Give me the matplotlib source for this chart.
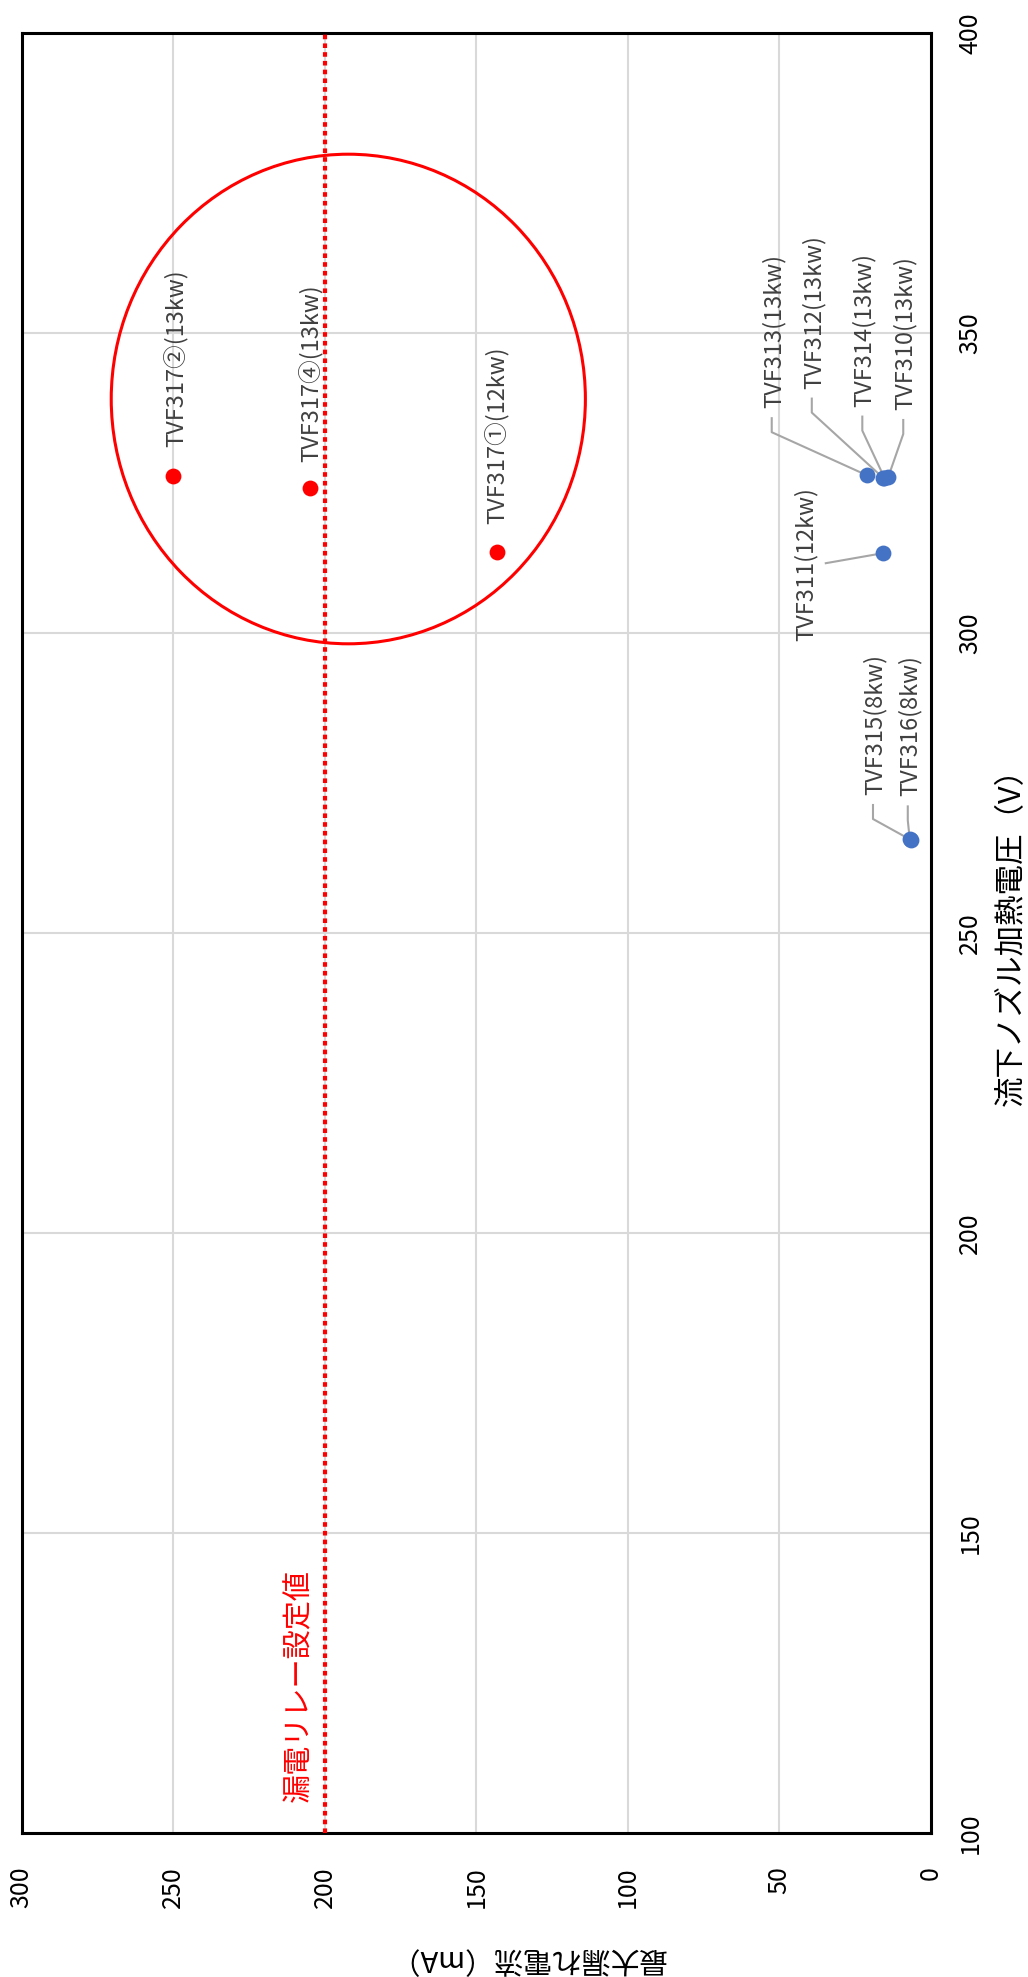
import numpy as np
import matplotlib
matplotlib.use('Agg')
import matplotlib.pyplot as plt
import matplotlib.transforms as mtransforms
from matplotlib.patches import Ellipse

plt.rcParams['font.family'] = ['Noto Sans CJK JP', 'DejaVu Sans']

# nozzle heater units: voltage [V] vs max leakage current [mA]
blue_names = ['TVF310(13kw)', 'TVF311(12kw)', 'TVF312(13kw)', 'TVF313(13kw)',
              'TVF314(13kw)', 'TVF315(8kw)', 'TVF316(8kw)']
blue_volt = [326.0, 313.3, 325.9, 326.3, 325.9, 265.5, 265.6]
blue_leak = [14.1, 15.9, 15.9, 21.2, 15.4, 6.6, 7.0]

red_names = ['TVF317①(12kw)', 'TVF317②(13kw)', 'TVF317④(13kw)']
red_volt = [313.5, 326.1, 324.2]
red_leak = [143.2, 250.0, 205.0]

relay_setting = 200   # mA
relay_text = '漏電リレー設定値'

# highlighted region (centre volt/leak and half sizes)
ring_leak, ring_volt = 192.2, 339.0
ring_dleak, ring_dvolt = 78.2, 40.8

xlabel = '最大漏れ電流（mA）'
ylabel = '流下ノズル加熱電圧（V）'

# label offsets in pixels from the point (dx, dy), leader style
blue_lab = [(17, 67, 'below'), (-77, -88, 'side'), (-69, 89, 'below'), (-93, 67, 'below'),
            (-20, 71, 'below'), (-36, 45, 'below'), (0, 43, 'below')]
red_lab = [(0, 28), (2, 29), (1, 26)]

W, H = 1028, 1977
fig = plt.figure(figsize=(W / 100, H / 100), dpi=100)
ax = fig.add_axes([21.5 / W, 144 / H, 909.5 / W, 1800 / H])

ax.set_xlim(300, 0)
ax.set_ylim(100, 400)
ax.set_xticks(np.arange(0, 301, 50))
ax.set_yticks(np.arange(100, 401, 50))
ax.grid(color='#D9D9D9', linewidth=1.5)
ax.set_axisbelow(True)
ax.yaxis.tick_right()
ax.tick_params(axis='x', length=0, pad=24, labelrotation=90, labelsize=18)
ax.tick_params(axis='y', length=0, pad=19, labelrotation=90, labelsize=18)
for lab in ax.get_yticklabels():
    lab.set_va('center')
for s in ax.spines.values():
    s.set_linewidth(2.2)
    s.set_color('black')

# relay threshold
ax.axvline(relay_setting, color='red', lw=3, linestyle=(0, (1.1, 1.0)),
           dash_capstyle='butt', clip_on=False, zorder=3)
ax.annotate(relay_text, xy=(relay_setting, 0), xycoords=ax.get_xaxis_transform(),
            xytext=(-25, 31), textcoords='offset pixels', rotation=90,
            ha='center', va='bottom', fontsize=21, color='red')

ax.add_patch(Ellipse((ring_leak, ring_volt), 2 * ring_dleak, 2 * ring_dvolt,
                     fill=False, edgecolor='red', lw=2.2, zorder=3))

ax.scatter(blue_leak, blue_volt, s=130, color='#4472C4', zorder=5, linewidths=0)
ax.scatter(red_leak, red_volt, s=130, color='red', zorder=5, linewidths=0)

inv = ax.transData.inverted()


def leader(c, v, pts):
    p = ax.transData.transform((c, v))
    xy = inv.transform([p + np.array(q) for q in pts])
    ax.plot(xy[:, 0], xy[:, 1], color='#A6A6A6', lw=1.5, zorder=4, clip_on=False)


for name, c, v, (dx, dy, kind) in zip(blue_names, blue_leak, blue_volt, blue_lab):
    ax.annotate(name, xy=(c, v), xytext=(dx, dy), textcoords='offset pixels',
                rotation=90, ha='center', va='bottom', fontsize=17, color='#404040')
    if kind == 'below':
        leader(c, v, [(dx - 2, dy - 10), (dx - 2, dy - 24), (0, 0)])
    else:
        leader(c, v, [(-57, -10), (0, 0)])

for name, c, v, (dx, dy) in zip(red_names, red_leak, red_volt, red_lab):
    ax.annotate(name, xy=(c, v), xytext=(dx, dy), textcoords='offset pixels',
                rotation=90, ha='center', va='bottom', fontsize=17, color='#404040')

fig.text(1011.7 / W, 1 - 929 / H, ylabel, rotation=90, ha='center', va='center', fontsize=22)
fig.text(527 / W, 1 - 1958 / H, xlabel, rotation=180, ha='center', va='center', fontsize=21)

fig.savefig('out.png', dpi=100)
